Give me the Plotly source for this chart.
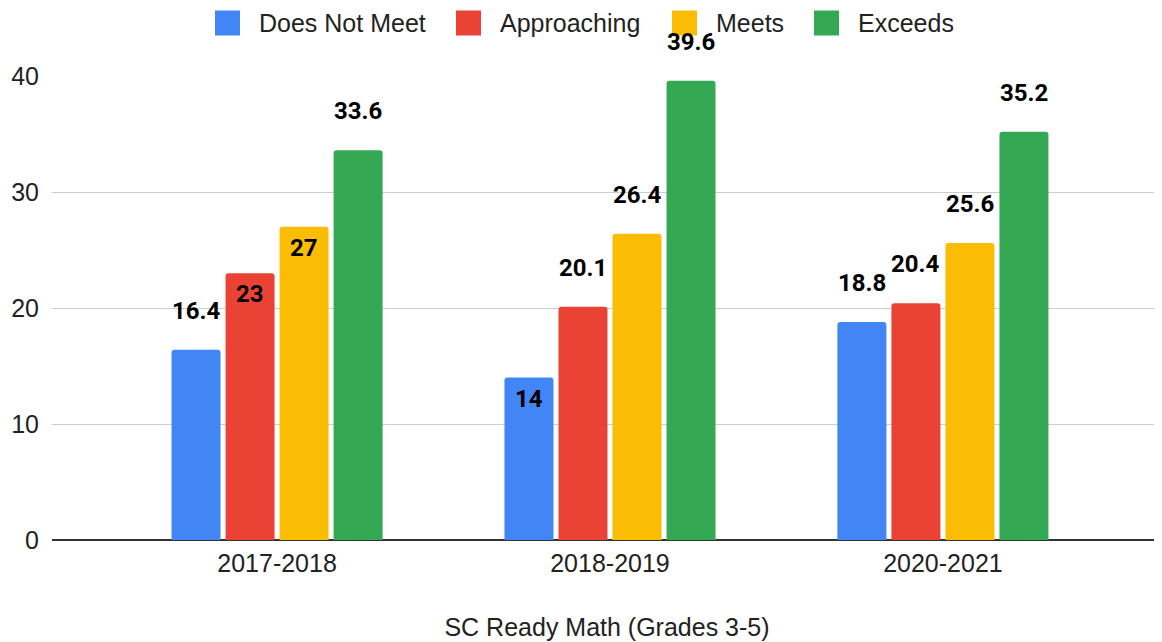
import plotly.graph_objects as go

# Data
years = ['2017-2018', '2018-2019', '2020-2021']
does_not_meet = [16.4, 14, 18.8]
approaching = [23, 20.1, 20.4]
meets = [27, 26.4, 25.6]
exceeds = [33.6, 39.6, 35.2]

series = [
    ('Does Not Meet', does_not_meet, '#4285F4'),
    ('Approaching', approaching, '#EA4335'),
    ('Meets', meets, '#FBBC04'),
    ('Exceeds', exceeds, '#34A853'),
]

# labels that Google Sheets drew inside the bar (series index, category index)
inside_labels = {(1, 0), (2, 0), (0, 1)}

# figure geometry (px); the html page puts the figure 8px in from the corner
PAGE = 8
W, H = 1162, 642
ML, MR, MT, MB = 52 - PAGE, PAGE, 76 - PAGE, 102 + PAGE
PW, PH = W - ML - MR, H - MT - MB

# legend swatch left edges (screen px) and swatch size
LEGEND_X = [215, 456, 672, 814]
SWATCH = 25
LEGEND_CY = 23

BARGAP = 0.351
GROUPGAP = 0.093
TICK_FONT = dict(family='Liberation Sans, Arial, sans-serif', size=25, color='#222222')
LABEL_FONT = dict(family='Roboto, Arial, sans-serif', size=24, color='#000000')


def px_to_paper(px, py):
    # screen pixel -> paper coordinates
    fx, fy = px - PAGE, py - PAGE
    return (fx - ML) / PW, (H - MB - fy) / PH


def main():
    fig = go.Figure()
    n = len(series)
    slot = (1 - BARGAP) / n
    annotations = []
    shapes = []

    for j, (name, vals, color) in enumerate(series):
        fig.add_trace(go.Bar(
            x=years, y=vals, name=name,
            marker=dict(color=color, cornerradius=3, line=dict(width=0)),
        ))
        for i, v in enumerate(vals):
            xc = i - (1 - BARGAP) / 2 + slot * (j + 0.5)
            inside = (j, i) in inside_labels
            annotations.append(dict(
                x=xc, y=v, xref='x', yref='y',
                text='<b>%g</b>' % v, showarrow=False,
                font=LABEL_FONT, yanchor='middle',
                yshift=-21 if inside else 39,
            ))

        # legend entry: swatch + label
        x0, y0 = px_to_paper(LEGEND_X[j], LEGEND_CY + SWATCH / 2)
        x1, y1 = px_to_paper(LEGEND_X[j] + SWATCH, LEGEND_CY - SWATCH / 2)
        shapes.append(dict(
            type='rect', xref='paper', yref='paper',
            x0=x0, x1=x1, y0=y0, y1=y1,
            fillcolor=color, line=dict(width=0),
        ))
        tx, ty = px_to_paper(LEGEND_X[j] + SWATCH + 17, LEGEND_CY)
        annotations.append(dict(
            x=tx, y=ty, xref='paper', yref='paper',
            text=name, showarrow=False, font=TICK_FONT,
            xanchor='left', yanchor='middle',
        ))

    fig.update_layout(
        barmode='group',
        bargap=BARGAP,
        bargroupgap=GROUPGAP,
        width=W, height=H,
        margin=dict(l=ML, r=MR, t=MT, b=MB, autoexpand=False),
        plot_bgcolor='white',
        paper_bgcolor='white',
        annotations=annotations,
        shapes=shapes,
        showlegend=False,
        xaxis=dict(
            type='category',
            range=[-0.676, 2.658],
            tickfont=TICK_FONT,
            showgrid=False,
            automargin=False,
            ticklabelstandoff=6,
            title=dict(text='SC Ready Math (Grades 3-5)', font=TICK_FONT, standoff=42),
        ),
        yaxis=dict(
            range=[0, 40],
            dtick=10,
            tickfont=TICK_FONT,
            gridcolor='#cccccc', gridwidth=1,
            zeroline=True, zerolinecolor='#333333', zerolinewidth=2,
            automargin=False,
            ticklabelstandoff=12,
        ),
    )

    fig.write_html('out.html')


if __name__ == '__main__':
    main()
